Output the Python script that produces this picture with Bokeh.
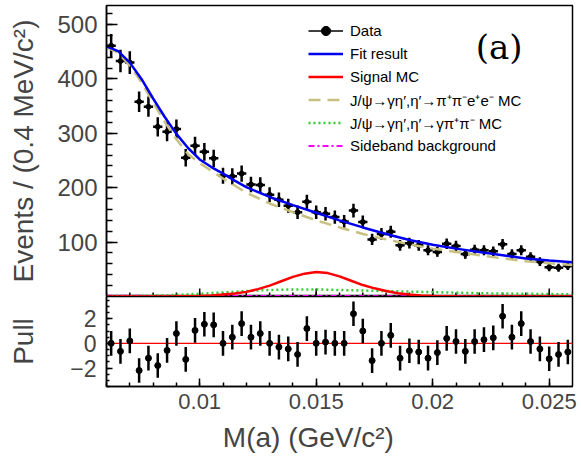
import numpy as np
from bokeh.plotting import figure
from bokeh.layouts import column
from bokeh.models import Range1d, FixedTicker, CustomJSTickFormatter, Legend, LegendItem, Label
from bokeh.embed import file_html
from bokeh.resources import INLINE

# ---------------- data ----------------
bin_lo = 0.006
bin_w = 0.0004
counts = [461, 433, 430, 358, 349, 312, 303, 308, 255, 277,
          266, 254, 222, 221, 226, 206, 205, 187, 178, 167,
          155, 174, 155, 152, 146, 138, 158, 137, 105, 115,
          119, 94, 98, 94, 85, 82, 97, 93, 78, 86,
          85, 83, 96, 78, 85, 73, 64, 54, 53, 56]
pulls = [0, -0.65, 0.2, -2.2, -1.2, -1.8, -0.57, 0.8, -1.3, 1.05,
         1.55, 1.5, 0, 0.5, 1.6, 0.5, 0.8, 0, -0.3, -0.45,
         -0.9, 1.2, 0, 0.1, 0, 0, 2.4, 1.0, -1.4, 0,
         0.65, -1.2, -0.6, -0.7, -1.2, -0.75, 0.4, 0.15, -0.65, 0.15,
         0.3, 0.45, 2.2, 0.5, 1.6, 0.15, -0.45, -1.25, -0.9, -0.7]

curve_x = [0.006, 0.0065, 0.007, 0.0075, 0.008, 0.0085, 0.009, 0.0095, 0.010, 0.0105,
           0.011, 0.0115, 0.012, 0.013, 0.014, 0.015, 0.016, 0.017, 0.018, 0.019,
           0.020, 0.021, 0.022, 0.023, 0.024, 0.025, 0.026]
fit_y = [460, 451, 430, 400, 364, 330, 299, 273, 252, 238,
         226, 213, 201, 183, 168, 154, 140, 127, 115, 104,
         95, 88, 82, 76, 70, 66, 63]
eeMC_y = [458, 448, 425, 394, 357, 321, 289, 262, 245, 231,
          217, 204, 191, 171, 155, 140, 127, 115, 105, 96,
          88, 82, 76, 70, 65, 61, 58]

sig_x = [0.006, 0.009, 0.010, 0.0105, 0.011, 0.0115, 0.012, 0.0125, 0.013, 0.0135,
         0.014, 0.0145, 0.015, 0.0155, 0.016, 0.0165, 0.017, 0.0175, 0.018, 0.0185,
         0.019, 0.0195, 0.020, 0.021, 0.022, 0.026]
sig_y = [0, 0.3, 1, 2, 3.5, 5.5, 8.5, 13.5, 20, 28,
         36, 42, 45, 43, 37, 29, 21, 15, 10, 6,
         3.5, 2, 1, 0.3, 0, 0]

gmc_x = [0.006, 0.008, 0.009, 0.010, 0.011, 0.012, 0.013, 0.014, 0.015, 0.016,
         0.017, 0.018, 0.019, 0.020, 0.021, 0.022, 0.023, 0.024, 0.025, 0.026]
gmc_y = [0.5, 1.5, 3, 5, 7.5, 10, 12, 13, 13, 12,
         11, 10, 9, 8, 7, 6, 5.5, 5, 4.5, 4]

sb_x = [0.006, 0.012, 0.018, 0.026]
sb_y = [1.2, 1.0, 0.6, 0.5]

x_major = [0.01, 0.015, 0.02, 0.025]
x_minor = [0.006 + 0.001 * i for i in range(21)]
legend_labels = ["Data", "Fit result", "Signal MC",
                 "J/\u03c8\u2192\u03b3\u03b7\u2032,\u03b7\u2032\u2192\u03c0\u207a\u03c0\u207be\u207ae\u207b MC",
                 "J/\u03c8\u2192\u03b3\u03b7\u2032,\u03b7\u2032\u2192\u03b3\u03c0\u207a\u03c0\u207b MC",
                 "Sideband background"]

# ---------------- derived ----------------
counts_a = np.array(counts, dtype=float)
xc = bin_lo + bin_w * (np.arange(len(counts)) + 0.5)
err = np.sqrt(counts_a)
pull_a = np.array(pulls, dtype=float)

FONT = "Liberation Sans"
x_range = Range1d(0.006, 0.026)
Y_TOP = 535.0
TOP_FRAME_H = 291.0

# ---------------- top panel ----------------
top = figure(width=581, height=296, x_range=x_range, y_range=Range1d(0, Y_TOP),
             output_backend="svg", toolbar_location=None,
             min_border_left=106, min_border_right=9, min_border_top=5, min_border_bottom=0)
top.xgrid.visible = False
top.ygrid.visible = False
top.outline_line_color = "black"
top.outline_line_width = 1.5
top.xaxis.visible = False

# inward tick marks of the shared x axis along the top panel's lower edge
px = Y_TOP / TOP_FRAME_H
top.segment(x_major, [0] * len(x_major), x_major, [8 * px] * len(x_major),
            line_color="black", line_width=1.5)
top.segment(x_minor, [0] * len(x_minor), x_minor, [4 * px] * len(x_minor),
            line_color="black", line_width=1.5)

# data crosses
top.segment(xc, counts_a - err, xc, counts_a + err, line_color="black", line_width=2.5)
top.segment(xc - bin_w / 2, counts_a, xc + bin_w / 2, counts_a, line_color="black", line_width=2.5)
top.scatter(xc, counts_a, size=5, color="black")

# curves
r_sb = top.line(sb_x, sb_y, line_color="#ff00ff", line_width=2, line_dash="6 3 2 3")
r_g = top.line(gmc_x, gmc_y, line_color="#33cc33", line_width=2.5, line_dash="2 3")
r_ee = top.line(curve_x, eeMC_y, line_color="#c8c080", line_width=2.5, line_dash="12 7")
r_sig = top.line(sig_x, sig_y, line_color="#ff0000", line_width=2.5)
r_fit = top.line(curve_x, fit_y, line_color="#0000ee", line_width=2.5)

# dummy renderers for the Data legend entry
r_dl = top.line([np.nan], [np.nan], line_color="black", line_width=1.5)
r_dp = top.scatter([np.nan], [np.nan], size=6, color="black")

legend = Legend(items=[
    LegendItem(label=legend_labels[0], renderers=[r_dl, r_dp]),
    LegendItem(label=legend_labels[1], renderers=[r_fit]),
    LegendItem(label=legend_labels[2], renderers=[r_sig]),
    LegendItem(label=legend_labels[3], renderers=[r_ee]),
    LegendItem(label=legend_labels[4], renderers=[r_g]),
    LegendItem(label=legend_labels[5], renderers=[r_sb]),
], location=(202, 139), orientation="vertical")
legend.background_fill_alpha = 0
legend.border_line_color = None
legend.padding = 0
legend.margin = 0
legend.spacing = 0
legend.glyph_height = 23
legend.label_height = 23
legend.glyph_width = 35
legend.label_standoff = 7
legend.label_text_font = FONT
legend.label_text_font_size = "15px"
legend.label_text_color = "black"
top.add_layout(legend)

top.add_layout(Label(x=0.02185, y=458, text="(a)", text_font="DejaVu Serif",
                     text_font_size="34px", text_color="black",
                     text_baseline="middle", text_align="left"))

top.yaxis.ticker = FixedTicker(ticks=[100, 200, 300, 400, 500],
                               minor_ticks=list(range(0, 540, 20)))
ax = top.yaxis[0]
ax.axis_line_width = 1.5
ax.major_tick_out = 0
ax.minor_tick_out = 0
ax.major_tick_line_width = 1.5
ax.minor_tick_line_width = 1.5
ax.major_tick_in = 11
ax.minor_tick_in = 6
ax.major_label_text_font = FONT
ax.major_label_text_font_size = "24px"
ax.major_label_standoff = 9
ax.axis_label = "Events / (0.4 MeV/c\u00b2)"
ax.axis_label_text_font = FONT
ax.axis_label_text_font_style = "normal"
ax.axis_label_text_font_size = "28px"
ax.axis_label_standoff = 15

# ---------------- pull panel ----------------
bot = figure(width=581, height=167, x_range=x_range, y_range=Range1d(-3.5, 3.8),
             output_backend="svg", toolbar_location=None,
             min_border_left=106, min_border_right=9, min_border_top=0, min_border_bottom=77)
bot.xgrid.visible = False
bot.ygrid.visible = False
bot.outline_line_color = "black"
bot.outline_line_width = 1.5

bot.line([0.006, 0.026], [0, 0], line_color="#ff0000", line_width=1.2)
bot.segment(xc, pull_a - 1, xc, pull_a + 1, line_color="black", line_width=2.5)
bot.scatter(xc, pull_a, size=6, color="black")

bot.yaxis.ticker = FixedTicker(ticks=[-2, 0, 2],
                               minor_ticks=[-3.5 + 0.5 * i for i in range(15)])
bot.xaxis.ticker = FixedTicker(ticks=x_major, minor_ticks=x_minor)
bot.xaxis.formatter = CustomJSTickFormatter(code="return String(Math.round(tick*1000)/1000);")
for ax in (bot.xaxis[0], bot.yaxis[0]):
    ax.axis_line_width = 1.5
    ax.major_tick_out = 0
    ax.minor_tick_out = 0
    ax.major_tick_line_width = 1.5
    ax.minor_tick_line_width = 1.5
    ax.major_label_text_font = FONT
    ax.axis_label_text_font = FONT
    ax.axis_label_text_font_style = "normal"
    ax.axis_label_text_font_size = "28px"
bot.xaxis.major_label_text_font_size = "22px"
bot.yaxis.major_label_text_font_size = "23px"
bot.yaxis.major_tick_in = 6
bot.yaxis.minor_tick_in = 3
bot.xaxis.major_tick_in = 8
bot.xaxis.minor_tick_in = 4
bot.yaxis.major_label_standoff = 10
bot.yaxis.axis_label = "Pull"
bot.yaxis.axis_label_standoff = 28
bot.xaxis.major_label_standoff = 7
bot.xaxis.axis_label = "M(a) (GeV/c\u00b2)" + "\u00a0" * 8
bot.xaxis.axis_label_standoff = 10

layout = column(top, bot, spacing=0)
open("out.html", "w").write(file_html(layout, INLINE))
